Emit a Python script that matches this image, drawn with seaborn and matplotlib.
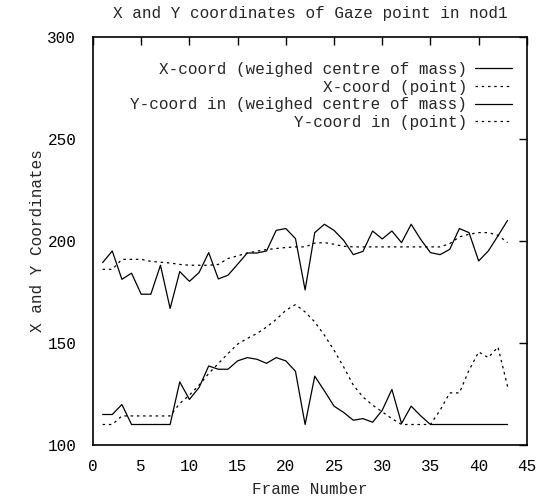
import numpy as np
import pandas as pd
import matplotlib
matplotlib.use("Agg")
import matplotlib.pyplot as plt
import seaborn as sns

frames = list(range(1, 44))
x_weighed = [189.4, 195.1, 181.2, 184.2, 173.9, 173.9, 188.1, 166.9, 185.0, 180.2,
             184.5, 194.3, 181.4, 183.2, 188.6, 194.1, 194.1, 195.1, 205.2, 206.1,
             201.2, 176.0, 204.1, 208.2, 205.2, 200.3, 193.3, 194.9, 204.9, 201.0,
             204.9, 199.2, 208.2, 200.7, 194.3, 193.3, 195.9, 206.1, 204.1, 190.2,
             195.1, 202.5, 210.1]
x_point = [186.1, 186.1, 191.0, 191.0, 191.0, 190.0, 189.6, 189.2, 188.5, 188.1,
           188.1, 188.1, 188.5, 191.4, 192.7, 194.1, 195.0, 195.8, 196.3, 196.8,
           197.1, 197.1, 199.0, 199.2, 198.4, 197.4, 197.1, 197.1, 197.1, 197.1,
           197.1, 197.1, 197.1, 197.1, 197.1, 197.1, 198.7, 202.0, 203.3, 204.1,
           204.1, 202.8, 199.2]
y_weighed = [114.9, 114.9, 119.8, 110.0, 110.0, 110.0, 110.0, 110.0, 130.9, 122.3,
             128.1, 138.7, 137.1, 137.1, 141.2, 142.8, 142.0, 140.0, 142.8, 141.2,
             136.1, 110.0, 133.7, 126.5, 119.0, 115.9, 112.1, 112.9, 111.1, 117.0,
             127.2, 110.5, 119.0, 114.2, 110.0, 110.0, 110.0, 110.0, 110.0, 110.0,
             110.0, 110.0, 110.0]
y_point = [110.0, 110.0, 114.2, 114.2, 114.2, 114.2, 114.2, 114.2, 120.3, 124.4,
           129.3, 135.0, 139.9, 144.8, 149.4, 152.2, 154.6, 157.8, 161.5, 166.0,
           168.8, 165.2, 160.3, 153.8, 146.4, 138.2, 129.3, 123.5, 119.5, 116.2,
           112.9, 110.0, 110.0, 110.0, 110.0, 117.0, 125.5, 125.5, 136.6, 145.6,
           142.8, 148.0, 128.6]

labels = ["X-coord (weighed centre of mass)", "X-coord (point)",
          "Y-coord in (weighed centre of mass)", "Y-coord in (point)"]
series = [x_weighed, x_point, y_weighed, y_point]

title = "X and Y coordinates of Gaze point in nod1"
xlabel = "Frame Number"
ylabel = "X and Y Coordinates"
xticks = [0, 5, 10, 15, 20, 25, 30, 35, 40, 45]
yticks = [100, 150, 200, 250, 300]

sns.set_theme(style="white")
plt.rcParams["font.family"] = ["Liberation Mono", "DejaVu Sans Mono"]
plt.rcParams["font.size"] = 11.5

df = pd.DataFrame({
    "frame": frames * 4,
    "value": sum(series, []),
    "series": sum([[l] * len(frames) for l in labels], []),
})

fig = plt.figure(figsize=(5.39, 5.01), dpi=100)
ax = fig.add_axes([0.1725, 0.112, 0.805, 0.814])

styles = ["-", (0, (2, 3)), "-", (0, (2, 3))]
for lab, ls in zip(labels, styles):
    sub = df[df["series"] == lab]
    sns.lineplot(data=sub, x="frame", y="value", ax=ax, color="black",
                 linewidth=0.9, linestyle=ls, label=lab)

ax.set_xlim(0, 45)
ax.set_ylim(100, 300)
ax.set_xticks(xticks)
ax.set_yticks(yticks)
ax.tick_params(direction="in", top=True, right=True, length=6, width=1,
               labelsize=11.5, colors="black")
ax.tick_params(axis="x", pad=10)
ax.tick_params(axis="y", pad=12)
for s in ax.spines.values():
    s.set_color("black")
    s.set_linewidth(1.2)
ax.set_title(title, fontsize=11.5, pad=14)
ax.set_xlabel(xlabel, fontsize=11.5, labelpad=6)
ax.set_ylabel(ylabel, fontsize=11.5, labelpad=2)

ax.legend(loc="upper right", bbox_to_anchor=(0.98, 0.955), borderaxespad=0,
          frameon=False, markerfirst=False,
          handlelength=2.3, handletextpad=0.5, labelspacing=0.17,
          fontsize=11.5)

fig.savefig("out.png", dpi=100)
